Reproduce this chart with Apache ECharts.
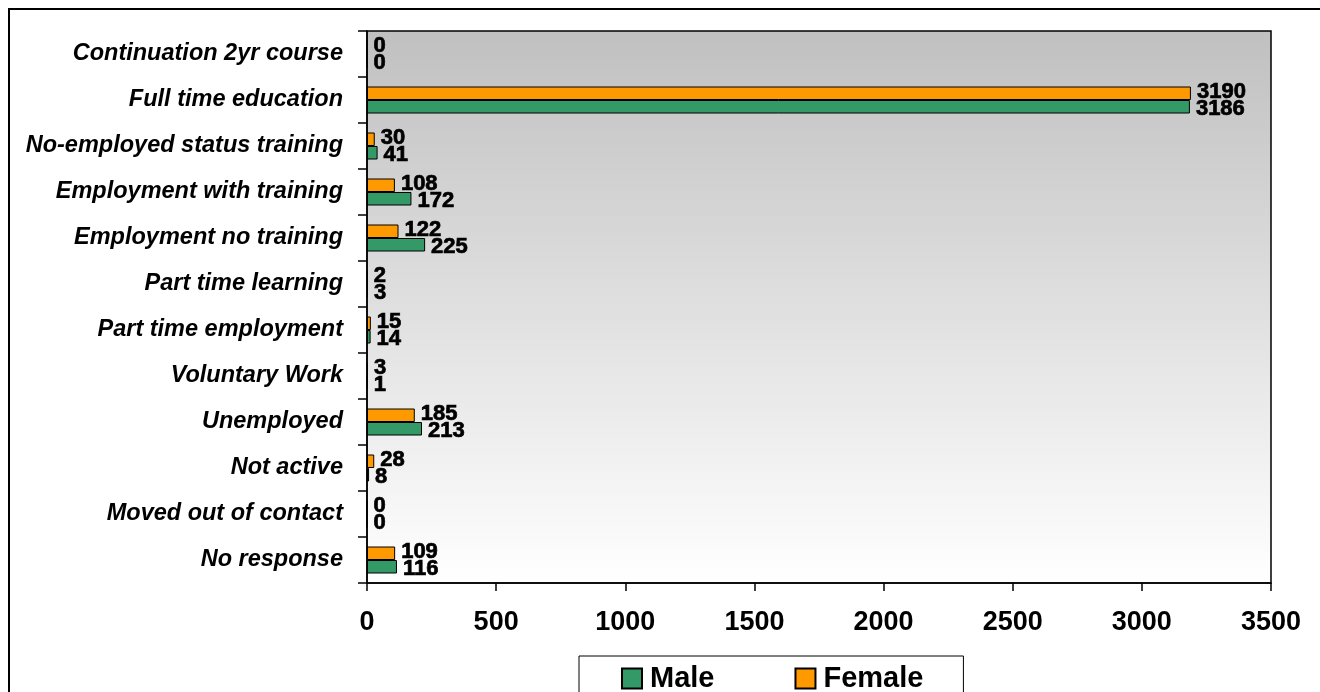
<!DOCTYPE html>
<html>
<head>
<meta charset="utf-8">
<script src="https://cdn.jsdelivr.net/npm/echarts@6/dist/echarts.min.js"></script>
<style>
html,body{margin:0;padding:0;background:#fff;}
#chart{width:1320px;height:692px;}
</style>
</head>
<body>
<div id="chart"></div>
<script>
const categories = [
  'Continuation 2yr course',
  'Full time education',
  'No-employed status training',
  'Employment with training',
  'Employment no training',
  'Part time learning',
  'Part time employment',
  'Voluntary Work',
  'Unemployed',
  'Not active',
  'Moved out of contact',
  'No response'
];
const maleValues   = [0, 3186, 41, 172, 225, 3, 14, 1, 213, 8, 0, 116];
const femaleValues = [0, 3190, 30, 108, 122, 2, 15, 3, 185, 28, 0, 109];
const xTicks = [0, 500, 1000, 1500, 2000, 2500, 3000, 3500];

const FONT = 'Arial, "Liberation Sans", sans-serif';
const chart = echarts.init(document.getElementById('chart'), null, {renderer: 'canvas'});

function makeLabel(dy) {
  return {
    show: true,
    position: 'right',
    distance: 6,
    offset: [0, dy],
    color: '#000',
    fontFamily: FONT,
    fontWeight: 'bold',
    fontSize: 22,
    textBorderColor: '#000',
    textBorderWidth: 0.7
  };
}

chart.setOption({
  animation: false,
  backgroundColor: '#fff',
  graphic: [{
    type: 'rect',
    shape: {x: 9, y: 9, width: 1340, height: 720},
    style: {fill: 'none', stroke: '#000', lineWidth: 2},
    silent: true,
    z: 100
  }],
  grid: {
    left: 367, right: 49, top: 31, bottom: 109,
    show: true,
    borderColor: '#000',
    borderWidth: 1.5,
    backgroundColor: new echarts.graphic.LinearGradient(0, 0, 0, 1, [
      {offset: 0, color: '#c0c0c0'},
      {offset: 1, color: '#ffffff'}
    ])
  },
  legend: {
    data: ['Male', 'Female'],
    left: 579,
    top: 656,
    orient: 'horizontal',
    padding: [8, 40, 12, 42],
    itemGap: 80,
    itemWidth: 20,
    itemHeight: 20,
    borderColor: '#000',
    borderWidth: 1,
    icon: 'rect',
    textStyle: {
      color: '#000',
      fontFamily: FONT,
      fontWeight: 'bold',
      fontSize: 29,
      padding: [0, 0, 0, 3]
    }
  },
  xAxis: {
    type: 'value',
    min: 0,
    max: 3500,
    interval: 500,
    splitLine: {show: false},
    axisLine: {show: true, lineStyle: {color: '#000', width: 1.5}},
    axisTick: {show: true, length: 8, lineStyle: {color: '#000', width: 1.5}},
    axisLabel: {
      margin: 26,
      color: '#000',
      fontFamily: FONT,
      fontWeight: 'bold',
      fontSize: 27,
      formatter: function (v) { return xTicks.indexOf(v) >= 0 ? String(v) : ''; }
    }
  },
  yAxis: {
    type: 'category',
    inverse: true,
    data: categories,
    axisLine: {show: true, lineStyle: {color: '#000', width: 1.5}},
    axisTick: {show: true, length: 9, lineStyle: {color: '#000', width: 1.5}},
    axisLabel: {
      margin: 24,
      color: '#000',
      fontFamily: FONT,
      fontWeight: 'bold',
      fontStyle: 'italic',
      fontSize: 23.5
    }
  },
  series: [
    {
      name: 'Female',
      type: 'bar',
      data: femaleValues,
      barWidth: 13.5,
      barGap: '0%',
      itemStyle: {color: '#ff9900', borderColor: '#000', borderWidth: 1},
      label: makeLabel(-1)
    },
    {
      name: 'Male',
      type: 'bar',
      data: maleValues,
      barWidth: 13.5,
      barGap: '0%',
      itemStyle: {color: '#339966', borderColor: '#000', borderWidth: 1},
      label: makeLabel(2)
    }
  ]
});
</script>
</body>
</html>
